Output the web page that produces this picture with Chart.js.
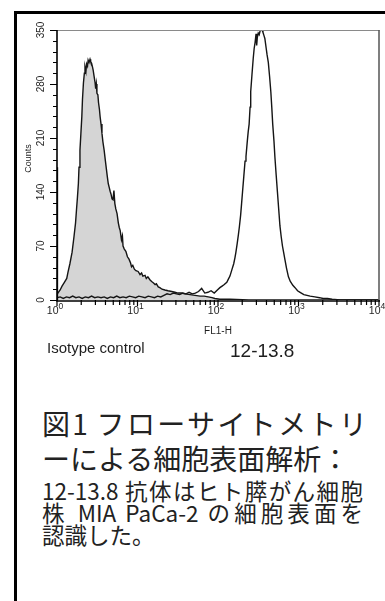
<!DOCTYPE html>
<html><head><meta charset="utf-8">
<script src="https://cdn.jsdelivr.net/npm/chart.js@4/dist/chart.umd.min.js"></script>
<style>
html,body{margin:0;padding:0;background:#fff;width:385px;height:601px;overflow:hidden;}
#frame{position:absolute;left:14px;top:11px;width:380px;height:600px;border-left:3px solid #000;border-top:3px solid #000;}
#wrap{position:absolute;left:17px;top:14px;width:368px;height:350px;}
.lbl{position:absolute;font-family:"Liberation Sans",Arial,sans-serif;color:#1e1e1e;white-space:nowrap;}
#l1{left:47px;top:340px;font-size:15px;line-height:15px;}
#l2{left:230px;top:341px;font-size:19px;line-height:19px;}
.cap{position:absolute;left:42px;font-family:"Noto Sans CJK JP",sans-serif;color:#222;white-space:nowrap;}
.cap span{display:block;}
.cap .j{text-align:justify;text-align-last:justify;}
.h{font-size:28px;line-height:35px;width:325px;}
.b{font-size:22.5px;line-height:22px;width:321px;}
</style></head>
<body>
<div id="frame"></div>
<div id="wrap"><canvas id="c" width="368" height="350" style="width:368px;height:350px;"></canvas></div>
<div class="lbl" id="l1">Isotype control</div>
<div class="lbl" id="l2">12-13.8</div>
<div class="cap h" style="top:406px;"><span class="j">図1 フローサイトメトリ</span><span>ーによる細胞表面解析：</span></div>
<div class="cap b" style="top:479px;"><span class="j">12-13.8 抗体はヒト膵がん細胞</span><span class="j">株 MIA PaCa-2 の細胞表面を</span><span>認識した。</span></div>
<script>
// FL1-H channel (0-1023, 256 channels per decade) and event counts
const isoChannels = [0,0,2,10,16,22,31,35,41,48,54,59,62,65,68,70,73,76,79,81,84,87,89,92,94,97,99,102,105,107,110,113,115,118,121,123,125,127,130,132,135,137,140,143,146,150,154,157,160,163,166,169,172,175,178,181,184,187,191,195,198,201,205,208,210,214,219,224,229,234,237,241,246,251,258,264,269,273,280,284,289,296,301,307,312,316,322,327,334,343,353,365,375,385,396,406,423,439,455,468,481,493,502,518,550,610,1023];
const isoCounts   = [0,90,8,13,18,22,28,36,47,62,82,100,117,133,151,172,194,216,238,260,281,294,302,296,306,303,311,308,312,309,307,302,298,290,282,274,280,268,266,256,247,238,228,216,205,194,180,170,160,151,146,141,137,131,130,142,125,118,112,100,94,90,78,83,70,66,63,56,53,48,43,45,40,38,37,33,35,31,32,28,30,26,24,22,20,21,17,16,14,13,12,11,10,9,9,8,7,6,5,5,4,3,2,1,1,0,0];

const mabChannels = [0,0,3,10,20,30,40,50,60,70,80,90,100,110,120,130,140,150,160,170,180,190,200,210,220,230,240,250,260,270,280,290,300,310,320,330,340,350,360,370,380,390,400,410,420,430,440,450,460,470,480,490,500,510,518,525,532,540,545,550,556,562,566,569,573,577,580,584,587,590,594,598,601,605,608,611,614,616,620,624,627,630,633,635,637,640,643,646,649,652,655,658,661,665,668,672,676,680,683,686,690,693,697,701,705,709,713,717,721,725,730,736,742,750,757,765,773,785,795,805,820,835,846,860,875,900,1023];
const mabCounts   = [0,172,3,4,2,4,3,5,3,4,2,4,3,5,3,4,3,4,2,4,3,5,3,4,3,5,4,3,5,4,3,5,4,3,5,4,6,8,7,9,8,7,9,8,10,8,9,11,15,9,10,12,9,13,16,18,20,23,27,31,39,47,55,62,73,85,95,110,125,140,160,180,186,205,218,228,250,270,292,313,326,334,345,330,340,346,344,349,352,350,347,343,339,327,318,308,290,270,250,228,206,185,162,140,118,96,82,70,61,52,41,30,24,19,16,12,10,7,6,5,4,3,2,2,1,0,0];

const seriesNames = ['Isotype control','12-13.8'];
const yTicks = [0,70,140,210,280,350];
const yMinorStep = 14;
const xDecades = [0,1,2,3,4];          // tick labels 10^0 ... 10^4
const channelsPerDecade = 256;
const xTitle = 'FL1-H';
const yTitle = 'Counts';

const toPts = (xs, ys) => xs.map((v,i)=>({x:v, y:ys[i]}));

const axesPlugin = {
  id:'axesPlugin',
  afterDatasetsDraw(chart){
    const {ctx, chartArea:a, scales:{x,y}} = chart;
    ctx.save();
    ctx.strokeStyle='#8a8a8a'; ctx.lineWidth=1;
    ctx.beginPath(); ctx.moveTo(a.left, a.top+0.5); ctx.lineTo(a.right+0.5, a.top+0.5); ctx.stroke();
    ctx.strokeStyle='#555'; ctx.lineWidth=1.5;
    ctx.beginPath(); ctx.moveTo(a.right, a.top); ctx.lineTo(a.right, a.bottom); ctx.stroke();
    ctx.strokeStyle='#000'; ctx.lineWidth=1.6;
    ctx.beginPath(); ctx.moveTo(a.left, a.top); ctx.lineTo(a.left, a.bottom+1); ctx.lineTo(a.right+1, a.bottom+1); ctx.stroke();
    ctx.lineWidth=1;
    for(let v=0; v<=350; v+=yMinorStep){
      const py = Math.round(y.getPixelForValue(v))+0.5;
      const major = yTicks.includes(v);
      ctx.beginPath(); ctx.moveTo(a.left, py); ctx.lineTo(a.left-(major?7:4), py); ctx.stroke();
    }
    ctx.lineWidth=1.2;
    xDecades.forEach(k=>{
      const px = x.getPixelForValue(k*channelsPerDecade);
      ctx.beginPath(); ctx.moveTo(px, a.bottom); ctx.lineTo(px, a.bottom+6); ctx.stroke();
      if(k<4){
        for(let m=2;m<=9;m++){
          const mx = x.getPixelForValue((k+Math.log10(m))*channelsPerDecade);
          ctx.beginPath(); ctx.moveTo(mx, a.bottom); ctx.lineTo(mx, a.bottom+5); ctx.stroke();
        }
      }
    });
    ctx.fillStyle='#1e1e1e';
    ctx.font='10px "Liberation Sans", Arial, sans-serif';
    ctx.textAlign='center'; ctx.textBaseline='middle';
    yTicks.forEach(v=>{
      ctx.save(); ctx.translate(a.left-15.5, y.getPixelForValue(v)); ctx.rotate(-Math.PI/2);
      ctx.fillText(String(v),0,0); ctx.restore();
    });
    ctx.save(); ctx.translate(a.left-28, (a.top+a.bottom)/2-6.5); ctx.rotate(-Math.PI/2);
    ctx.font='9px "Liberation Sans", Arial, sans-serif';
    ctx.fillText(yTitle,0,0); ctx.restore();
    ctx.textBaseline='alphabetic';
    xDecades.forEach(k=>{
      const px = x.getPixelForValue(k*channelsPerDecade);
      ctx.font='10.5px "Liberation Sans", Arial, sans-serif';
      ctx.textAlign='right'; ctx.fillText('10', px+1.5, a.bottom+13.5);
      ctx.font='8.5px "Liberation Sans", Arial, sans-serif';
      ctx.textAlign='left'; ctx.fillText(String(k), px+1.5, a.bottom+9);
    });
    ctx.font='10px "Liberation Sans", Arial, sans-serif';
    ctx.textAlign='center';
    ctx.fillText(xTitle, x.getPixelForValue(2*channelsPerDecade), a.bottom+33.5);
    ctx.restore();
  }
};

new Chart(document.getElementById('c'), {
  type:'line',
  data:{datasets:[
    {label:seriesNames[1], data:toPts(mabChannels,mabCounts), borderColor:'#151515', borderWidth:1.4, pointRadius:0, fill:false, tension:0, order:0},
    {label:seriesNames[0], data:toPts(isoChannels,isoCounts), borderColor:'#151515', borderWidth:1.4, backgroundColor:'#d5d5d5', pointRadius:0, fill:'origin', tension:0, order:1}
  ]},
  options:{
    responsive:false, animation:false, devicePixelRatio:1,
    layout:{padding:{left:40,right:6,top:16,bottom:64}},
    plugins:{legend:{display:false}, tooltip:{enabled:false}},
    scales:{
      x:{type:'linear', min:0, max:1024, display:false},
      y:{type:'linear', min:0, max:350, display:false}
    }
  },
  plugins:[axesPlugin]
});
</script>
</body></html>
